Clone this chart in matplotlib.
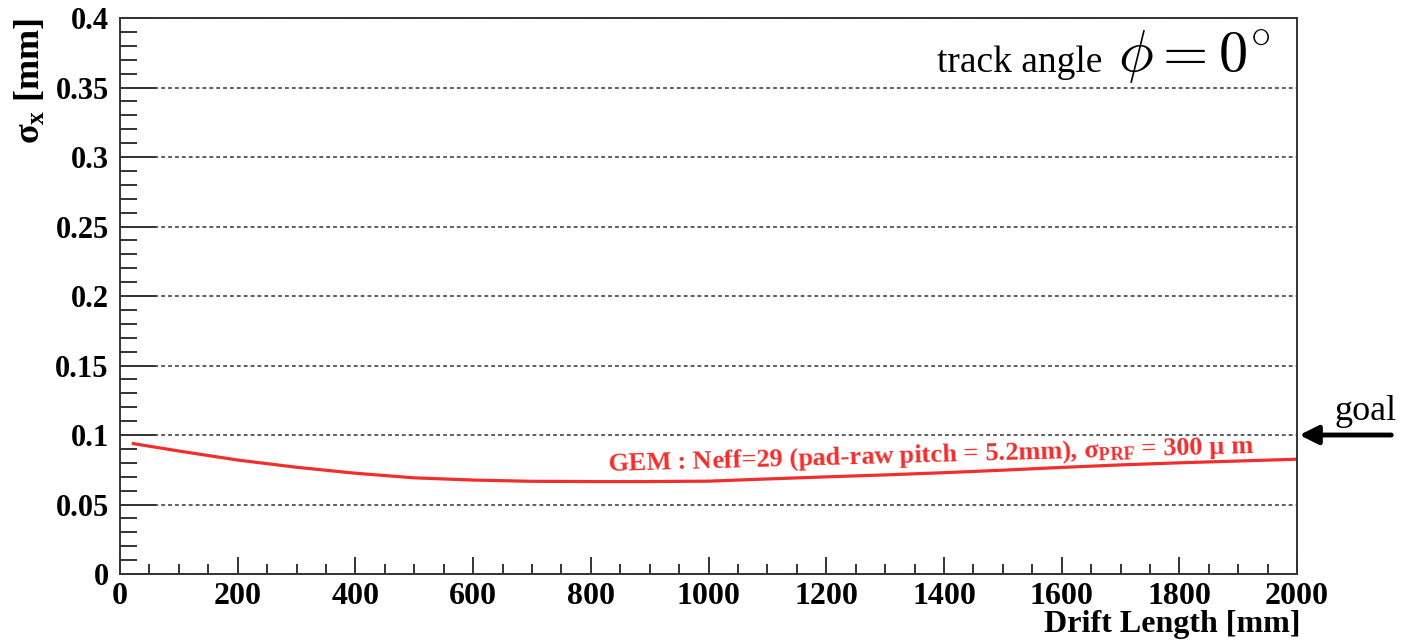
import matplotlib
matplotlib.use('Agg')
import matplotlib.pyplot as plt
from matplotlib.ticker import MultipleLocator
from matplotlib import rcParams

# serif, bold, ROOT-like look
params = {
    'font.family': 'serif',
    'font.serif': ['Liberation Serif', 'DejaVu Serif'],
    'font.weight': 'bold',
    'mathtext.fontset': 'custom',
    'mathtext.rm': 'Liberation Serif:bold',
    'mathtext.it': 'Liberation Serif:italic:bold',
    'mathtext.bf': 'Liberation Serif:bold',
    'axes.linewidth': 1.4,
    'axes.edgecolor': '#333333',
}
rcParams.update(params)

# resolution vs drift length
drift_mm = [20, 100, 200, 300, 400, 500, 600, 700, 800, 900, 1000,
            1100, 1200, 1300, 1400, 1500, 1600, 1700, 1800, 1900, 2000]
sigma_x = [0.0940, 0.0885, 0.0820, 0.0768, 0.0725, 0.0692, 0.0676, 0.0667,
           0.0665, 0.0665, 0.0668, 0.0684, 0.0699, 0.0713, 0.0729, 0.0747,
           0.0767, 0.0785, 0.0800, 0.0813, 0.0826]
goal = 0.1

red = '#f02e2e'

fig = plt.figure(figsize=(14.03, 6.42), dpi=100)
ax = fig.add_axes([0.0855, 0.1059, 0.839, 0.866])

ax.plot(drift_mm, sigma_x, color=red, lw=2.3, solid_capstyle='butt')

ax.set_xlim(0, 2000)
ax.set_ylim(0, 0.4)

ax.xaxis.set_major_locator(MultipleLocator(200))
ax.xaxis.set_minor_locator(MultipleLocator(50))
ax.yaxis.set_minor_locator(MultipleLocator(0.01))
ax.set_yticks([0, 0.05, 0.1, 0.15, 0.2, 0.25, 0.3, 0.35, 0.4])
ax.set_yticklabels(['0', '0.05', '0.1', '0.15', '0.2', '0.25', '0.3', '0.35', '0.4'])

ax.tick_params(axis='x', which='major', direction='in', length=12, width=1.4,
               labelsize=23, pad=6, color='#333333')
ax.tick_params(axis='x', which='minor', direction='in', length=7, width=1.4,
               color='#333333')
ax.tick_params(axis='y', which='major', direction='in', length=26, width=1.4,
               labelsize=22, pad=8, color='#333333')
ax.tick_params(axis='y', which='minor', direction='in', length=12, width=1.4,
               color='#333333')

# horizontal dotted grid
ax.yaxis.grid(True, which='major', linestyle=(0, (2.5, 2.0)), lw=1.1,
              color='#333333')
ax.set_axisbelow(True)

ax.set_xlabel('Drift Length [mm]', fontsize=23, fontweight='bold', loc='right')
ax.xaxis.set_label_coords(1.003, -0.064)
ax.text(-0.076, 1.0, 'σ$_{\\mathbf{x}}$ [mm]', transform=ax.transAxes,
        rotation=90, ha='center', va='top', fontsize=26, fontweight='bold')

# curve label, drawn slightly uphill along the curve
ax.text(0.4146, 0.186, 'GEM : Neff=29 (pad-raw pitch = 5.2mm), '
        'σ$_{\\mathbf{PRF}}$ = 300 μ m',
        transform=ax.transAxes, color=red, fontsize=19, fontweight='bold',
        va='baseline', ha='left', rotation=1.6, rotation_mode='anchor')

# track angle label
ax.text(0.8343, 0.903, 'track angle', transform=ax.transAxes,
        fontsize=27, fontweight='normal', ha='right', va='baseline')
ax.text(0.848, 0.903, r'$\phi = 0^{\circ}$', transform=ax.transAxes,
        fontsize=42, ha='left', va='baseline', math_fontfamily='cm')

# goal arrow
ax.annotate('', xy=(1.002, goal), xycoords=('axes fraction', 'data'),
            xytext=(1.08, goal), textcoords=('axes fraction', 'data'),
            arrowprops=dict(arrowstyle='-|>', lw=3.5, color='black',
                            mutation_scale=28, shrinkA=0, shrinkB=0),
            annotation_clip=False)
ax.text(1.0578, 0.1105, 'goal', transform=ax.get_yaxis_transform(),
        fontsize=26, fontweight='normal', ha='center', va='baseline',
        clip_on=False)

fig.savefig('out.png', dpi=100)
